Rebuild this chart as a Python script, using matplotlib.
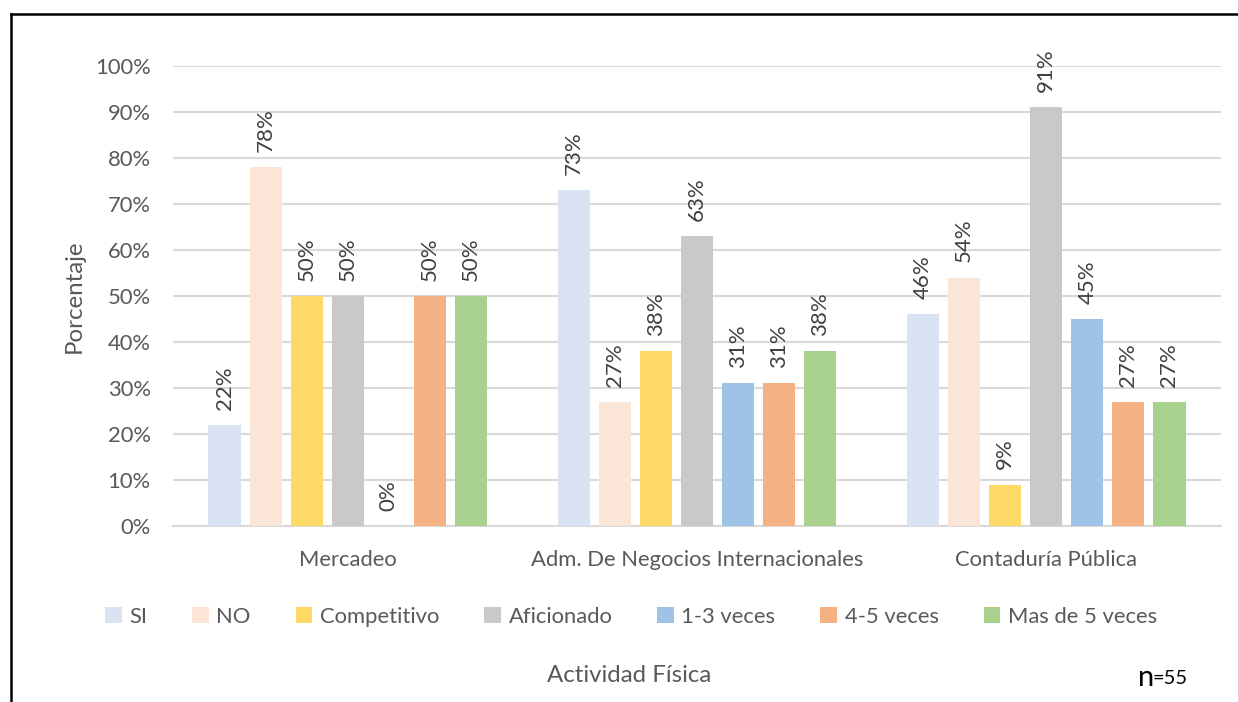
import matplotlib
matplotlib.use("Agg")
import matplotlib.pyplot as plt
from matplotlib.lines import Line2D
from matplotlib.patches import Patch
import numpy as np

plt.rcParams['font.family'] = ['Lato', 'DejaVu Sans']

carreras = ["Mercadeo", "Adm. De Negocios Internacionales", "Contaduría Pública"]
series = ["SI", "NO", "Competitivo", "Aficionado", "1-3 veces", "4-5 veces", "Mas de 5 veces"]
si = [22, 73, 46]
no = [78, 27, 54]
competitivo = [50, 38, 9]
aficionado = [50, 63, 91]
veces_1_3 = [0, 31, 45]
veces_4_5 = [50, 31, 27]
mas_de_5 = [50, 38, 27]
valores = [si, no, competitivo, aficionado, veces_1_3, veces_4_5, mas_de_5]
colores = ["#DAE3F3", "#FBE5D6", "#FFD966", "#C9C9C9", "#9DC3E6", "#F4B183", "#A9D18E"]
yticks = list(range(0, 101, 10))

W, H = 1238, 702
fig = plt.figure(figsize=(W / 100, H / 100), dpi=100)
ax = fig.add_axes([173 / W, 1 - 526 / H, (1221 - 173) / W, 460 / H])

x = np.arange(len(carreras))
step = 0.1175
width = 0.092
text_col = "#595959"
for i, (vals, col) in enumerate(zip(valores, colores)):
    pos = x + (i - 3) * step
    ax.bar(pos, vals, width=width, color=col, zorder=3, label=series[i])
    for p, v in zip(pos, vals):
        ax.annotate(f"{v}%", (p, v), xytext=(0, 11), textcoords="offset points",
                    rotation=90, ha="center", va="bottom", fontsize=16,
                    color="#404040")

ax.set_xlim(-0.5, 2.5)
ax.set_ylim(0, 100)
ax.set_yticks(yticks)
ax.set_yticklabels([f"{t}%" for t in yticks])
ax.set_xticks(x)
ax.set_xticklabels(carreras)
ax.tick_params(axis="both", length=0, labelsize=15.8, labelcolor=text_col)
ax.tick_params(axis="y", pad=16)
ax.tick_params(axis="x", pad=17)
ax.grid(axis="y", color="#D9D9D9", linewidth=1.5, zorder=0)
for s in ["top", "right", "left"]:
    ax.spines[s].set_visible(False)
ax.spines["bottom"].set_color("#D9D9D9")
ax.spines["bottom"].set_linewidth(1.5)
ax.set_ylabel("Porcentaje", fontsize=17.3, color=text_col)
ax.yaxis.set_label_coords((85 - 173) / 1048, 0.5)

handles = [Patch(facecolor=c, edgecolor="none") for c in colores]
fig.legend(handles, series, loc="center", bbox_to_anchor=(631 / W, 1 - 617 / H),
           ncol=7, frameon=False, fontsize=15.8, labelcolor=text_col,
           handlelength=0.75, handleheight=0.75, handletextpad=0.35,
           columnspacing=2.05)

fig.text(629 / W, 1 - 675 / H, "Actividad Física", ha="center", va="center",
         fontsize=17.3, color=text_col)
fig.text(1138 / W, 1 - 678 / H, "n", ha="left", va="center", fontsize=21, color="black")
fig.text(1153 / W, 1 - 679 / H, "=55", ha="left", va="center", fontsize=14.5, color="black")

# frame lines along the top and left edges
fig.add_artist(Line2D([11 / W, 1.0], [1 - 14 / H, 1 - 14 / H], color="black", linewidth=1.8))
fig.add_artist(Line2D([11 / W, 11 / W], [0.0, 1 - 14 / H], color="black", linewidth=1.8))

fig.savefig("out.png", dpi=100, facecolor="white")
